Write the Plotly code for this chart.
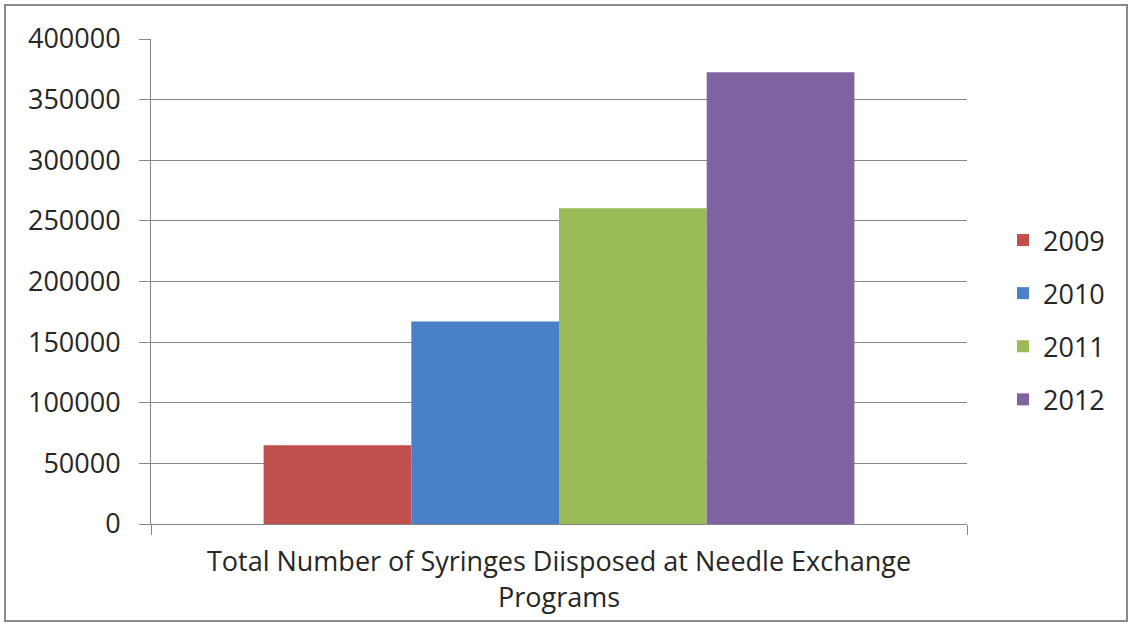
import plotly.graph_objects as go

categories = ["Total Number of Syringes Diisposed at Needle Exchange<br>Programs"]
years = ["2009", "2010", "2011", "2012"]
values = [65000, 167000, 260500, 372500]
colors = ["#C0504D", "#4A80C8", "#9BBB59", "#8064A2"]
y_ticks = [0, 50000, 100000, 150000, 200000, 250000, 300000, 350000, 400000]

W, H = 1130, 629
L, R, T, B = 151, 163, 39, 105
pw, ph = W - L - R, H - T - B

fig = go.Figure()
for yr, v, c in zip(years, values, colors):
    fig.add_trace(go.Bar(x=categories, y=[v], name=yr, marker=dict(color=c, line=dict(width=0)),
                         legendgroup=yr))

font = "Open Sans, Lato, sans-serif"
fig.update_layout(
    width=W, height=H,
    margin=dict(l=L, r=R, t=T, b=B, pad=0),
    paper_bgcolor="white", plot_bgcolor="white",
    barmode="group", bargap=0.276, bargroupgap=0,
    font=dict(family=font, size=27, color="#262626"),
    showlegend=True,
    legend=dict(x=(1003 - L) / pw, y=(524 - 320) / ph, xanchor="left", yanchor="middle",
                font=dict(size=27, color="#262626"), tracegroupgap=15,
                bgcolor="rgba(0,0,0,0)"),
    xaxis=dict(showline=True, linecolor="#868686", linewidth=1, ticks="outside",
               tickson="boundaries", ticklen=10, tickcolor="#868686",
               tickfont=dict(size=27), showgrid=False, zeroline=False,
               ticklabelstandoff=14),
    yaxis=dict(range=[0, 400000], tickvals=y_ticks, ticktext=[str(t) for t in y_ticks],
               showline=True, linecolor="#868686", linewidth=1, ticks="outside", ticklen=11,
               tickcolor="#868686", showgrid=True, gridcolor="#868686", gridwidth=1,
               zeroline=False, ticklabelstandoff=13, tickfont=dict(size=27)),
    shapes=[dict(type="rect", xref="paper", yref="paper",
                 x0=(5 - L) / pw, x1=(1127 - L) / pw,
                 y0=(524 - 621) / ph, y1=(524 - 5) / ph,
                 line=dict(color="#8a8a8a", width=2), fillcolor="rgba(0,0,0,0)", layer="below")],
)

fig.write_html("out.html", config={"displayModeBar": False},
               post_script="document.body.style.margin='0';document.body.style.overflow='hidden';")
